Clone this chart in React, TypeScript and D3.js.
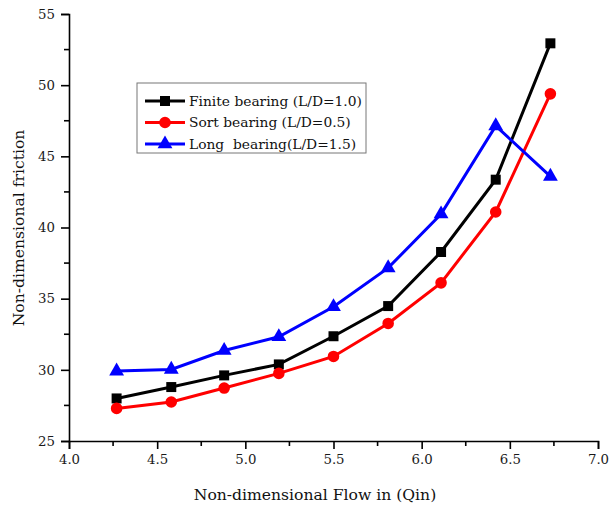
import React, { useEffect, useRef } from "react";
import * as d3 from "d3";

// flow values (x) shared by the three curves
const flow = [4.27, 4.58, 4.88, 5.19, 5.5, 5.81, 6.11, 6.42, 6.73];

const finiteBearing = [27.99, 28.79, 29.61, 30.38, 32.36, 34.48, 38.28, 43.36, 52.94];
const shortBearing = [27.29, 27.74, 28.72, 29.75, 30.94, 33.26, 36.11, 41.09, 49.39];
const longBearing = [29.91, 30.03, 31.36, 32.32, 34.43, 37.16, 40.95, 47.14, 43.59];

const seriesNames = [
  "Finite bearing (L/D=1.0)",
  "Sort bearing (L/D=0.5)",
  "Long  bearing(L/D=1.5)",
];

const xTicks = [4.0, 4.5, 5.0, 5.5, 6.0, 6.5, 7.0];
const yTicks = [25, 30, 35, 40, 45, 50, 55];

const FONT = "DejaVu Serif";

export default function App() {
  const ref = useRef<SVGSVGElement>(null);

  useEffect(() => {
    const width = 609;
    const height = 506;
    const margin = { top: 14, right: 11, bottom: 65, left: 69 };

    const svg = d3.select(ref.current);
    svg.selectAll("*").remove();

    const x = d3.scaleLinear().domain([4, 7]).range([margin.left, width - margin.right]);
    const y = d3.scaleLinear().domain([25, 55]).range([height - margin.bottom, margin.top]);

    // ==========================
    // Axes
    // ==========================
    const xAxis = svg.append("g")
      .attr("transform", `translate(0,${height - margin.bottom})`)
      .call(
        d3.axisBottom(x)
          .tickValues(xTicks)
          .tickSize(8)
          .tickPadding(6)
          .tickFormat(d3.format(".1f"))
      );

    // minor x ticks
    xAxis.selectAll(".minor")
      .data(d3.range(4.25, 7, 0.5))
      .enter()
      .append("line")
      .attr("x1", d => x(d))
      .attr("x2", d => x(d))
      .attr("y1", 0)
      .attr("y2", 5)
      .attr("stroke", "#000")
      .attr("stroke-width", 1.6);

    const yAxis = svg.append("g")
      .attr("transform", `translate(${margin.left},0)`)
      .call(
        d3.axisLeft(y)
          .tickValues(yTicks)
          .tickSize(8)
          .tickPadding(6)
      );

    yAxis.selectAll(".minor")
      .data(d3.range(27.5, 55, 5))
      .enter()
      .append("line")
      .attr("x1", 0)
      .attr("x2", -5)
      .attr("y1", d => y(d))
      .attr("y2", d => y(d))
      .attr("stroke", "#000")
      .attr("stroke-width", 1.6);

    [xAxis, yAxis].forEach(g => {
      g.select(".domain").attr("stroke-width", 1.6);
      g.selectAll(".tick line").attr("stroke-width", 1.6);
      g.selectAll(".tick text")
        .attr("font-family", FONT)
        .attr("font-size", 13.3)
        .attr("fill", "#1a1a1a");
    });

    // axis titles
    svg.append("text")
      .attr("x", 315)
      .attr("y", 500)
      .attr("text-anchor", "middle")
      .attr("font-family", FONT)
      .attr("font-size", 15.6)
      .attr("fill", "#111")
      .text("Non-dimensional Flow in (Qin)");

    svg.append("text")
      .attr("transform", `translate(24,228) rotate(-90)`)
      .attr("text-anchor", "middle")
      .attr("font-family", FONT)
      .attr("font-size", 15.6)
      .attr("fill", "#111")
      .text("Non-dimensional friction");

    // ==========================
    // Series
    // ==========================
    const series = [
      { name: seriesNames[0], values: finiteBearing, color: "#000000", shape: "square" },
      { name: seriesNames[1], values: shortBearing, color: "#ff0000", shape: "circle" },
      { name: seriesNames[2], values: longBearing, color: "#0000ff", shape: "triangle" },
    ];

    const symbolFor = (shape: string) => {
      if (shape === "square") return d3.symbol().type(d3.symbolSquare).size(100)();
      if (shape === "circle") return d3.symbol().type(d3.symbolCircle).size(105)();
      return d3.symbol().type(d3.symbolTriangle).size(95)();
    };

    const line = d3.line<number>()
      .x((_, i) => x(flow[i]))
      .y(d => y(d));

    series.forEach(s => {
      svg.append("path")
        .datum(s.values)
        .attr("d", line)
        .attr("fill", "none")
        .attr("stroke", s.color)
        .attr("stroke-width", 3);

      svg.append("g")
        .selectAll("path")
        .data(s.values)
        .enter()
        .append("path")
        .attr("d", symbolFor(s.shape))
        .attr("transform", (d, i) => `translate(${x(flow[i])},${y(d)})`)
        .attr("fill", s.color);
    });

    // ==========================
    // Legend
    // ==========================
    const legend = svg.append("g").attr("transform", "translate(137,83)");

    legend.append("rect")
      .attr("width", 229)
      .attr("height", 70)
      .attr("fill", "#fff")
      .attr("stroke", "#777")
      .attr("stroke-width", 1);

    series.forEach((s, i) => {
      const cy = 18 + i * 21.5;
      legend.append("line")
        .attr("x1", 8)
        .attr("x2", 48)
        .attr("y1", cy)
        .attr("y2", cy)
        .attr("stroke", s.color)
        .attr("stroke-width", 3);

      legend.append("path")
        .attr("d", symbolFor(s.shape))
        .attr("transform", `translate(28,${cy})`)
        .attr("fill", s.color);

      legend.append("text")
        .attr("x", 52)
        .attr("y", cy)
        .attr("dy", "0.35em")
        .attr("font-family", FONT)
        .attr("font-size", 13.8)
        .attr("fill", "#111")
        .style("white-space", "pre")
        .text(s.name);
    });
  }, []);

  return (
    <svg
      ref={ref}
      width={609}
      height={506}
      style={{ position: "absolute", left: 0, top: 0, background: "#fff" }}
    />
  );
}
